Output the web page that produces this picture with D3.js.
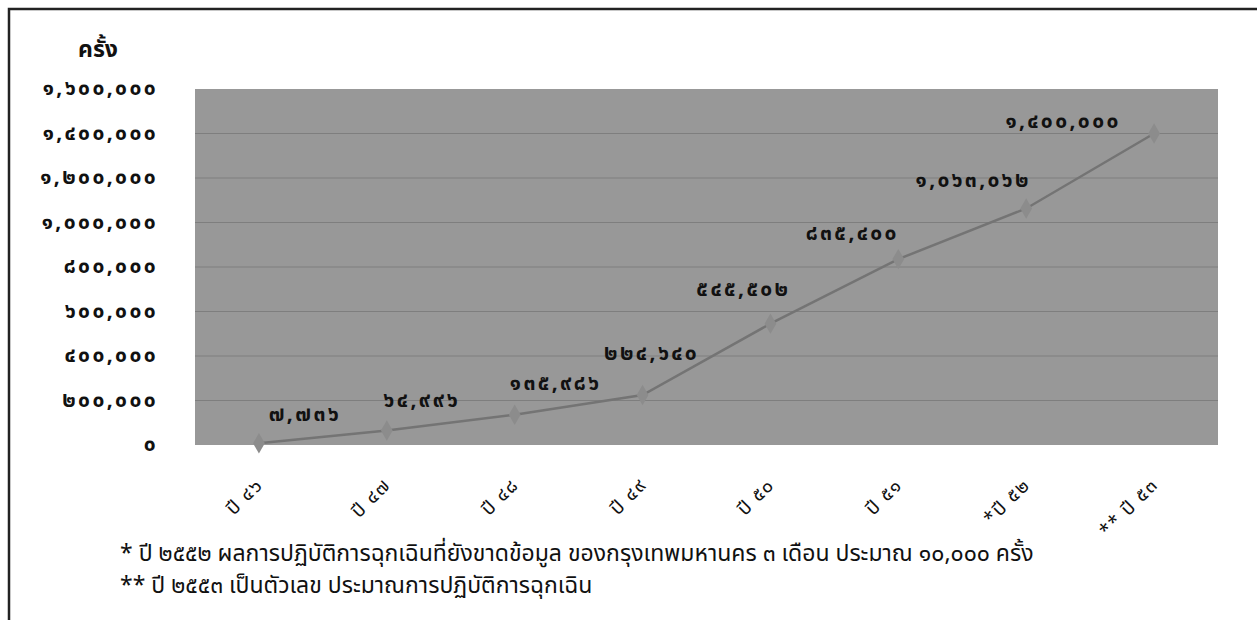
<!DOCTYPE html>
<html>
<head>
<meta charset="utf-8">
<script src="https://cdn.jsdelivr.net/npm/d3@7"></script>
<style>
body{margin:0;background:#fff;}
svg{display:block;}
text{font-family:Tahoma,"Noto Sans Thai","Loma","Garuda","DejaVu Sans",sans-serif;fill:#111;}
</style>
</head>
<body>
<svg id="chart" width="1257" height="620"></svg>
<script>
'use strict'

var years = ['ปี ๔๖','ปี ๔๗','ปี ๔๘','ปี ๔๙','ปี ๕๐','ปี ๕๑','*ปี ๕๒','** ปี ๕๓'];
var counts = [7736, 64996, 135986, 224640, 545502, 835400, 1063062, 1400000];
var yTicks = [0, 200000, 400000, 600000, 800000, 1000000, 1200000, 1400000, 1600000];
var unitLabel = 'ครั้ง';
var notes = [
	'* ปี ๒๕๕๒ ผลการปฏิบัติการฉุกเฉินที่ยังขาดข้อมูล ของกรุงเทพมหานคร ๓ เดือน ประมาณ ๑๐,๐๐๐ ครั้ง',
	'** ปี ๒๕๕๓ เป็นตัวเลข ประมาณการปฏิบัติการฉุกเฉิน'
];
// hand placed data labels (pixel shift from the point), like the original
var labelShift = [[46,-28],[35,-29],[41,-31],[9,-41],[-27,-34],[-46,-25],[-53,-27],[-91,-11]];

var plot = {left:195, right:1218, top:89, bottom:445};

var thaiDigits = '๐๑๒๓๔๕๖๗๘๙';
var comma = d3.format(',');
function thaiNum(v){
	return comma(v).replace(/[0-9]/g, function(d){ return thaiDigits[+d]; });
}

var svg = d3.select('#chart');

// frame of the original scan
svg.append('path')
	.attr('d', 'M9,620 V9 H1257')
	.attr('fill', 'none')
	.attr('stroke', '#222')
	.attr('stroke-width', 2.5);

var x = d3.scaleBand().domain(years).range([plot.left, plot.right]);
var y = d3.scaleLinear().domain([0, 1600000]).range([plot.bottom, plot.top]);
function cx(d){ return x(d) + x.bandwidth()/2; }

svg.append('rect')
	.attr('x', plot.left)
	.attr('y', plot.top)
	.attr('width', plot.right - plot.left)
	.attr('height', plot.bottom - plot.top)
	.attr('fill', '#989898');

// gridlines
svg.append('g')
	.selectAll('line')
	.data(yTicks.slice(1, -1))
	.join('line')
	.attr('x1', plot.left)
	.attr('x2', plot.right)
	.attr('y1', function(d){ return y(d); })
	.attr('y2', function(d){ return y(d); })
	.attr('stroke', '#7e7e7e')
	.attr('stroke-width', 1);

// y axis labels
var yAxis = svg.append('g')
	.attr('transform', 'translate(' + plot.left + ',0)')
	.call(d3.axisLeft(y).tickValues(yTicks).tickFormat(thaiNum).tickSize(0).tickPadding(37));
yAxis.select('.domain').remove();
yAxis.selectAll('text')
	.attr('font-size', 21)
	.attr('font-weight', 'bold')
	.attr('letter-spacing', 2.4)
	.attr('fill', '#111')
	.attr('dy', '0.28em');

svg.append('text')
	.attr('x', 98)
	.attr('y', 57)
	.attr('text-anchor', 'middle')
	.attr('font-size', 23)
	.attr('font-weight', 'bold')
	.text(unitLabel);

// x labels
svg.append('g')
	.selectAll('text')
	.data(years)
	.join('text')
	.attr('transform', function(d){ return 'translate(' + (cx(d) + 5) + ',486) rotate(-45)'; })
	.attr('text-anchor', 'end')
	.attr('font-size', 19)
	.attr('letter-spacing', 1.5)
	.text(function(d){ return d; });

// line + markers
var line = d3.line()
	.x(function(d, i){ return cx(years[i]); })
	.y(function(d){ return y(d); });

svg.append('path')
	.datum(counts)
	.attr('d', line)
	.attr('fill', 'none')
	.attr('stroke', '#747474')
	.attr('stroke-width', 2.5);

svg.append('g')
	.selectAll('path')
	.data(counts)
	.join('path')
	.attr('transform', function(d, i){ return 'translate(' + cx(years[i]) + ',' + y(d) + ')'; })
	.attr('d', d3.symbol().type(d3.symbolDiamond).size(120))
	.attr('fill', '#8c8c8c');

// data labels
svg.append('g')
	.selectAll('text')
	.data(counts)
	.join('text')
	.attr('x', function(d, i){ return cx(years[i]) + labelShift[i][0]; })
	.attr('y', function(d, i){ return y(d) + labelShift[i][1]; })
	.attr('dy', '0.28em')
	.attr('text-anchor', 'middle')
	.attr('font-size', 21)
	.attr('font-weight', 'bold')
	.attr('letter-spacing', 2.4)
	.text(function(d){ return thaiNum(d); });

// footnotes
svg.append('g')
	.selectAll('text')
	.data(notes)
	.join('text')
	.attr('x', 120)
	.attr('y', function(d, i){ return 561 + i*32; })
	.attr('font-size', 23)
	.text(function(d){ return d; });
</script>
</body>
</html>
